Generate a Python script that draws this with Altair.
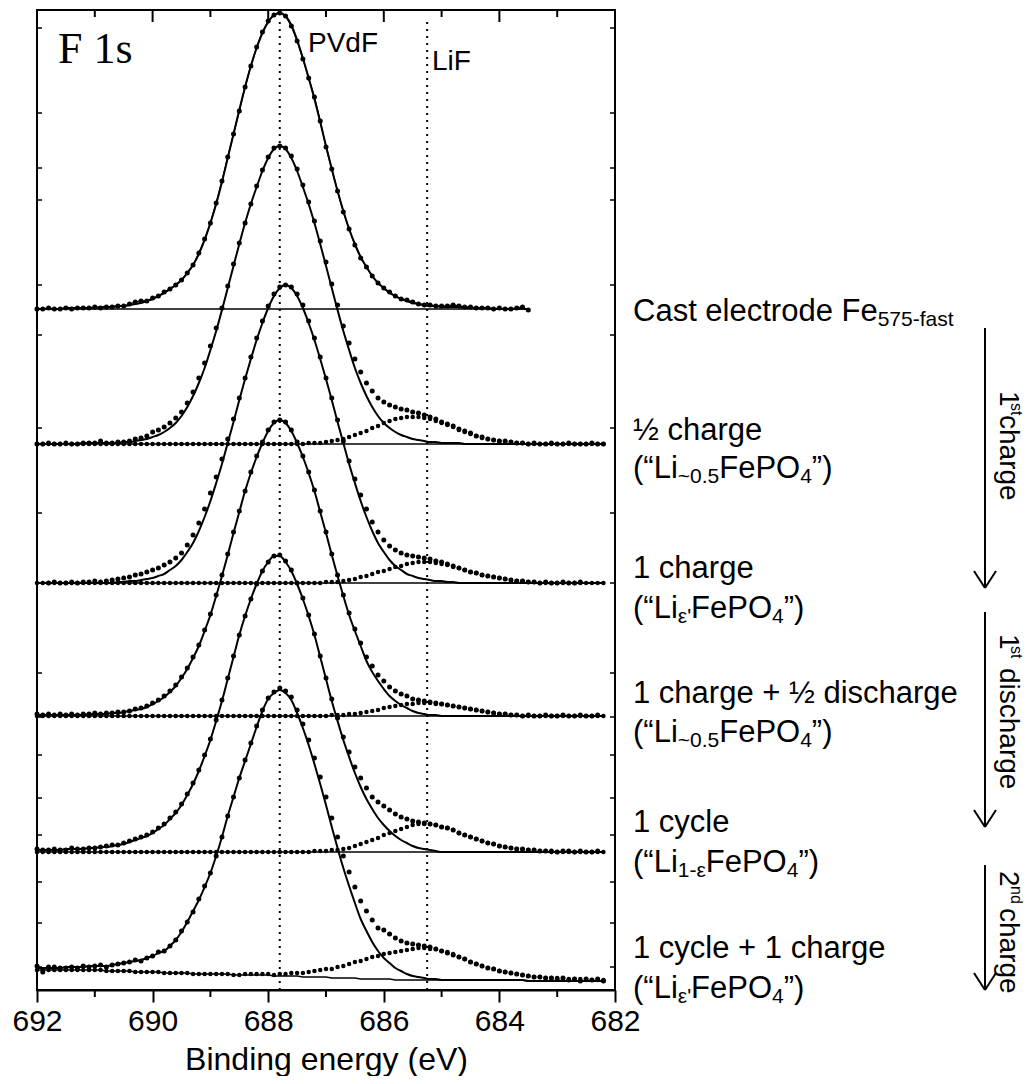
import altair as alt
import pandas as pd

# ---------------- data (heights, 1 unit = 1 px) ----------------
ENERGY = [
    692.0, 691.9, 691.8, 691.7, 691.6, 691.5, 691.4, 691.3, 691.2, 691.1,
    691.0, 690.9, 690.8, 690.7, 690.6, 690.5, 690.4, 690.3, 690.2, 690.1,
    690.0, 689.9, 689.8, 689.7, 689.6, 689.5, 689.4, 689.3, 689.2, 689.1,
    689.0, 688.9, 688.8, 688.7, 688.6, 688.5, 688.4, 688.3, 688.2, 688.1,
    688.0, 687.9, 687.8, 687.7, 687.6, 687.5, 687.4, 687.3, 687.2, 687.1,
    687.0, 686.9, 686.8, 686.7, 686.6, 686.5, 686.4, 686.3, 686.2, 686.1,
    686.0, 685.9, 685.8, 685.7, 685.6, 685.5, 685.4, 685.3, 685.2, 685.1,
    685.0, 684.9, 684.8, 684.7, 684.6, 684.5, 684.4, 684.3, 684.2, 684.1,
    684.0, 683.9, 683.8, 683.7, 683.6, 683.5, 683.4, 683.3, 683.2, 683.1,
    683.0, 682.9, 682.8, 682.7, 682.6, 682.5, 682.4, 682.3, 682.2,
]
N = None

# Cast electrode
S1_DATA = [
    0, 0, 1, 0, 0, 1, 0, 1, 1, 1,
    2, 1, 2, 2, 3, 3, 5, 7, 8, 8,
    11, 13, 17, 20, 24, 29, 36, 44, 56, 70,
    86, 106, 128, 152, 175, 198, 222, 243, 262, 277,
    288, 294, 296, 293, 283, 268, 250, 231, 212, 188,
    162, 140, 118, 97, 80, 64, 51, 42, 33, 26,
    21, 17, 13, 10, 9, 7, 5, 4, 4, 3,
    3, 3, 4, 3, 2, 2, 1, 1, 1, 0,
    1, 0, 0, 1, 2, -1, N, N, N, N,
    N, N, N, N, N, N, N, N, N,
]
S1_FIT = [
    0, 0, 0, 0, 0, 1, 1, 1, 1, 1,
    1, 2, 2, 2, 3, 3, 4, 5, 6, 8,
    10, 13, 16, 20, 24, 29, 36, 44, 55, 69,
    86, 105, 127, 151, 175, 199, 222, 243, 261, 276,
    287, 294, 296, 293, 284, 269, 251, 231, 210, 187,
    163, 140, 118, 98, 80, 65, 52, 42, 33, 26,
    21, 16, 13, 10, 8, 6, 5, 4, 3, 3,
    2, 2, 2, 2, 1, 1, 1, 1, 1, 0,
    0, 0, 0, 0, 0, 0, N, N, N, N,
    N, N, N, N, N, N, N, N, N,
]

# 1/2 charge
S2_DATA = [
    0, 0, 1, 0, 0, 1, 0, 0, 1, 1,
    1, 3, 1, 1, 2, 2, 3, 5, 6, 8,
    12, 14, 17, 21, 26, 32, 41, 52, 66, 81,
    98, 116, 136, 158, 180, 201, 221, 240, 258, 274,
    287, 296, 298, 296, 288, 275, 259, 242, 223, 203,
    182, 160, 139, 118, 101, 85, 72, 61, 53, 46,
    42, 39, 37, 35, 34, 32, 31, 29, 27, 25,
    22, 20, 18, 15, 13, 11, 8, 7, 5, 4,
    3, 3, 2, 1, 1, 0, 1, 0, 0, 1,
    0, 0, 1, 0, 0, 0, 1, 0, 0,
]
S2_FIT = [
    0, 0, 0, 0, 0, 0, 0, 0, 1, 1,
    1, 1, 1, 1, 1, 2, 2, 3, 4, 5,
    7, 9, 12, 16, 21, 28, 37, 48, 61, 76,
    94, 113, 134, 156, 178, 200, 221, 240, 257, 273,
    286, 295, 298, 295, 286, 273, 257, 240, 221, 200,
    178, 156, 134, 113, 94, 76, 61, 48, 37, 28,
    21, 16, 12, 9, 7, 5, 4, 3, 2, 2,
    1, 1, 1, 1, 0, 0, 0, 0, 0, 0,
    0, 0, 0, 0, 0, 0, 0, 0, 0, 0,
    0, 0, 0, 0, 0, 0, 0, 0, 0,
]
S2_LIF = [
    0, 0, 0, 0, 0, 0, 0, 0, 0, 0,
    0, 0, 0, 0, 0, 0, 0, 0, 0, 0,
    0, 0, 0, 0, 0, 0, 0, 0, 0, 0,
    0, 0, 0, 0, 0, 0, 0, 0, 0, 0,
    0, 0, 0, 0, 0, 0, 0, 1, 1, 1,
    2, 3, 4, 5, 7, 9, 11, 13, 16, 18,
    21, 23, 25, 26, 27, 27, 27, 26, 25, 23,
    21, 19, 17, 14, 12, 10, 8, 6, 5, 4,
    3, 2, 2, 1, 1, 0, 0, 0, 0, 0,
    0, 0, 0, 0, 0, 0, 0, 0, 0,
]

# 1 charge
S3_DATA = [
    N, N, 0, 1, 0, 0, 1, 0, 1, 1,
    2, 1, 2, 3, 4, 5, 6, 8, 9, 11,
    13, 15, 18, 21, 25, 30, 38, 48, 60, 74,
    90, 106, 124, 144, 164, 185, 205, 226, 245, 262,
    277, 289, 296, 298, 296, 289, 278, 262, 245, 226,
    205, 185, 163, 142, 122, 104, 88, 74, 61, 51,
    43, 37, 33, 30, 28, 27, 26, 25, 24, 22,
    21, 19, 17, 15, 13, 11, 10, 8, 7, 6,
    5, 4, 3, 2, 2, 1, 1, 0, 1, 0,
    0, 1, 0, 0, 1, N, N, N, N,
]
S3_FIT = [
    0, 0, 0, 0, 0, 0, 0, 0, 0, 0,
    0, 0, 0, 0, 1, 1, 2, 2, 3, 4,
    5, 7, 9, 13, 17, 23, 31, 40, 52, 66,
    82, 100, 119, 140, 161, 183, 204, 224, 243, 260,
    275, 287, 295, 298, 295, 287, 275, 260, 243, 224,
    204, 183, 161, 140, 119, 100, 82, 66, 52, 40,
    31, 23, 17, 13, 9, 7, 5, 4, 3, 2,
    2, 1, 1, 0, 0, 0, 0, 0, 0, 0,
    0, 0, 0, 0, 0, 0, 0, 0, 0, 0,
    0, 0, 0, 0, 0, 0, 0, 0, 0,
]
S3_LIF = [
    0, 0, 0, 0, 0, 0, 0, 0, 0, 0,
    0, 0, 0, 0, 0, 0, 0, 0, 0, 0,
    0, 0, 0, 0, 0, 0, 0, 0, 0, 0,
    0, 0, 0, 0, 0, 0, 0, 0, 0, 0,
    0, 0, 0, 0, 0, 0, 0, 0, 0, 0,
    1, 1, 1, 2, 3, 4, 6, 7, 9, 11,
    12, 14, 16, 17, 19, 20, 21, 21, 21, 20,
    19, 18, 16, 15, 13, 11, 10, 8, 7, 6,
    5, 4, 3, 2, 2, 1, 1, 0, 0, 0,
    0, 0, 0, 0, 0, 0, 0, 0, 0,
]

# 1 charge + 1/2 discharge
S4_DATA = [
    2, 1, 2, 1, 2, 1, 2, 1, 2, 2,
    3, 2, 3, 3, 4, 4, 5, 7, 8, 10,
    13, 16, 20, 25, 31, 39, 48, 59, 71, 86,
    102, 121, 141, 162, 184, 205, 225, 244, 260, 274,
    286, 294, 296, 294, 286, 274, 260, 244, 226, 205,
    184, 162, 141, 121, 103, 87, 73, 59, 50, 41,
    35, 29, 25, 22, 20, 17, 16, 15, 14, 13,
    12, 11, 10, 9, 8, 7, 6, 5, 4, 3,
    2, 2, 1, 1, 0, 1, 0, 0, 1, 0,
    0, 1, 0, 0, 1, 0, 0, 1, N,
]
S4_FIT = [
    1, 1, 1, 1, 1, 1, 1, 1, 1, 2,
    2, 2, 2, 3, 3, 4, 5, 6, 7, 9,
    12, 15, 19, 24, 30, 38, 47, 58, 70, 85,
    101, 120, 140, 161, 183, 204, 225, 243, 259, 273,
    285, 293, 296, 293, 285, 273, 259, 243, 225, 204,
    183, 161, 140, 120, 101, 85, 70, 55, 44, 35,
    27, 20, 15, 11, 8, 5, 3, 2, 1, 1,
    0, 0, 0, 0, 0, 0, 0, 0, 0, 0,
    0, 0, 0, 0, 0, 0, 0, 0, 0, 0,
    0, 0, 0, 0, 0, 0, 0, 0, 0,
]
S4_LIF = [
    0, 0, 0, 0, 0, 0, 0, 0, 0, 0,
    0, 0, 0, 0, 0, 0, 0, 0, 0, 0,
    0, 0, 0, 0, 0, 0, 0, 0, 0, 0,
    0, 0, 0, 0, 0, 0, 0, 0, 0, 0,
    0, 0, 0, 0, 0, 0, 0, 0, 0, 0,
    0, 1, 1, 1, 2, 2, 3, 4, 5, 6,
    8, 9, 10, 11, 12, 12, 13, 13, 13, 12,
    12, 11, 10, 9, 8, 7, 6, 5, 4, 3,
    2, 2, 1, 1, 0, 0, 0, 0, 0, 0,
    0, 0, 0, 0, 0, 0, 0, 0, 0,
]

# 1 cycle
S5_DATA = [
    3, 2, 2, 3, 2, 2, 4, 3, 3, 4,
    4, 5, 6, 7, 7, 9, 11, 13, 15, 17,
    20, 24, 28, 34, 40, 48, 58, 69, 82, 97,
    113, 132, 152, 174, 196, 217, 236, 253, 268, 281,
    290, 296, 297, 291, 282, 269, 254, 237, 218, 196,
    174, 153, 134, 115, 100, 85, 74, 64, 55, 50,
    46, 42, 38, 35, 33, 31, 30, 29, 28, 27,
    25, 24, 22, 19, 17, 15, 13, 11, 9, 8,
    6, 5, 4, 3, 3, 2, 2, 1, 1, 1,
    0, 1, 1, 0, 1, 0, 0, 1, N,
]
S5_FIT = [
    2, 2, 2, 2, 2, 3, 3, 3, 3, 4,
    4, 5, 5, 6, 7, 8, 10, 12, 14, 16,
    19, 23, 27, 33, 39, 47, 57, 68, 81, 96,
    112, 131, 151, 173, 195, 217, 236, 253, 268, 281,
    290, 296, 296, 290, 281, 268, 253, 236, 217, 195,
    173, 151, 131, 112, 95, 79, 65, 53, 43, 34,
    27, 21, 16, 12, 9, 6, 4, 3, 2, 1,
    0, 0, 0, 0, 0, 0, 0, 0, 0, 0,
    0, 0, 0, 0, 0, 0, 0, 0, 0, 0,
    0, 0, 0, 0, 0, 0, 0, 0, 0,
]
S5_LIF = [
    0, 0, 0, 0, 0, 0, 0, 0, 0, 0,
    0, 0, 0, 0, 0, 0, 0, 0, 0, 0,
    0, 0, 0, 0, 0, 0, 0, 0, 0, 0,
    0, 0, 0, 0, 0, 0, 0, 0, 0, 0,
    0, 0, 0, 0, 0, 0, 0, 0, 1, 1,
    1, 2, 2, 3, 4, 6, 8, 10, 12, 14,
    17, 19, 21, 23, 25, 27, 28, 28, 28, 27,
    25, 24, 22, 19, 17, 15, 13, 11, 9, 8,
    6, 5, 4, 3, 3, 2, 2, 1, 1, 0,
    0, 0, 0, 0, 0, 0, 0, 0, 0,
]

# 1 cycle + 1 charge (sloping background)
S6_BG = [
    20, 20, 20, 20, 20, 20, 20, 20, 20, 20,
    20, 20, 19, 19, 19, 19, 19, 18, 18, 18,
    18, 18, 17, 17, 17, 17, 17, 16, 16, 16,
    16, 16, 16, 16, 15, 15, 15, 15, 15, 15,
    15, 14, 14, 14, 14, 14, 13, 13, 13, 13,
    13, 12, 12, 12, 12, 12, 11, 11, 11, 11,
    11, 11, 10, 10, 10, 10, 10, 10, 10, 10,
    10, 10, 10, 10, 10, 10, 10, 10, 10, 10,
    10, 10, 10, 10, 10, 9, 9, 9, 9, 9,
    9, 9, 9, 9, 9, 9, 9, 9, 9,
]
S6_DATA = [
    4, -2, 3, 3, 2, 2, 3, 2, 4, 3,
    4, 5, 4, 6, 7, 8, 9, 12, 11, 14,
    16, 20, 22, 27, 33, 42, 51, 62, 75, 88,
    101, 118, 137, 158, 178, 197, 215, 232, 249, 265,
    277, 284, 288, 285, 279, 266, 253, 237, 219, 200,
    180, 160, 141, 122, 106, 91, 78, 68, 59, 51,
    49, 45, 42, 39, 37, 36, 35, 34, 33, 31,
    29, 27, 25, 23, 21, 18, 16, 14, 12, 11,
    9, 8, 7, 6, 5, 5, 4, 4, 3, 3,
    2, 3, 1, 2, 0, 2, 1, 2, 0,
]
S6_FIT = [
    2, 2, 2, 2, 2, 3, 3, 3, 3, 4,
    4, 4, 5, 6, 7, 8, 9, 11, 12, 14,
    16, 19, 22, 27, 33, 41, 51, 63, 74, 87,
    101, 118, 137, 158, 178, 197, 214, 231, 248, 264,
    276, 283, 286, 283, 276, 263, 249, 232, 213, 193,
    172, 151, 130, 110, 92, 75, 60, 48, 37, 28,
    21, 16, 12, 9, 6, 4, 3, 2, 1, 1,
    0, 0, 0, 0, 0, 0, 0, 0, 0, 0,
    0, 0, 0, 0, 0, 0, 0, 0, 0, 0,
    0, 0, 0, 0, 0, 0, 0, 0, 0,
]
S6_LIF = [
    0, 0, 0, 0, 0, 0, 0, 0, 0, 0,
    0, 0, 0, 0, 0, 0, 0, 0, 0, 0,
    0, 0, 0, 0, 0, 0, 0, 0, 0, 0,
    0, 0, 0, 0, 0, 0, 1, 1, 1, 1,
    1, 1, 2, 2, 3, 3, 4, 5, 6, 7,
    8, 9, 11, 12, 14, 16, 18, 20, 22, 23,
    25, 26, 28, 29, 30, 31, 32, 32, 31, 31,
    29, 28, 26, 23, 21, 18, 16, 14, 12, 11,
    9, 8, 7, 6, 5, 5, 4, 4, 3, 3,
    3, 2, 2, 2, 2, 1, 1, 1, 1,
]

# vertical offsets of the stacked spectra (intensity units)
OFFSETS = [681, 546, 407, 274, 138, None]
PEAK_LINES = [687.8, 685.25]          # PVdF and LiF reference energies
X_TICK_LABELS = [692, 690, 688, 686, 684, 682]
X_MINOR = [691, 689, 687, 685, 683]
X_TOP_MAJOR = [690, 688, 686, 684]
SIDE_TICKS = [962, 877, 822, 790, 705, 655, 562, 477, 407, 317, 273, 235, 192, 155, 108, 67, 23]

SPECTRA = [
    ("s1", S1_DATA, S1_FIT, None),
    ("s2", S2_DATA, S2_FIT, S2_LIF),
    ("s3", S3_DATA, S3_FIT, S3_LIF),
    ("s4", S4_DATA, S4_FIT, S4_LIF),
    ("s5", S5_DATA, S5_FIT, S5_LIF),
    ("s6", S6_DATA, S6_FIT, S6_LIF),
]
for _, d, f, l in SPECTRA:
    assert len(d) == len(ENERGY) and len(f) == len(ENERGY)
    if l is not None:
        assert len(l) == len(ENERGY)
assert len(S6_BG) == len(ENERGY)

# ---------------- build tables ----------------
pts, fits, lifs, bases = [], [], [], []
for k, (name, d, f, l) in enumerate(SPECTRA):
    off = OFFSETS[k]
    for i, e in enumerate(ENERGY):
        b = S6_BG[i] if off is None else off
        if d[i] is not None:
            pts.append({"E": e, "y": b + d[i], "spec": name})
            bases.append({"E": e, "y": b, "spec": name})
        if f[i] is not None:
            fits.append({"E": e, "y": b + f[i], "spec": name})
        if l is not None and l[i] is not None:
            lifs.append({"E": e, "y": b + l[i], "spec": name})
pts = pd.DataFrame(pts)
fits = pd.DataFrame(fits)
lifs = pd.DataFrame(lifs)
bases = pd.DataFrame(bases)
s1_pts = pts[pts["spec"] == "s1"]

X_SCALE = alt.Scale(domain=[682, 692], reverse=True, nice=False, zero=False)
Y_SCALE = alt.Scale(domain=[0, 980], nice=False, zero=False)
AXIS = alt.Axis(values=X_TICK_LABELS, format="d", title="Binding energy (eV)", grid=False,
                tickSize=12, tickWidth=2, tickColor="black", domainColor="black", domainWidth=2,
                labelFont="Liberation Sans", labelFontSize=30, labelColor="black", labelPadding=4,
                labelFlush=False, labelOverlap=False, titleFont="Liberation Sans", titleFontSize=32,
                titleFontWeight="normal", titleColor="black", titlePadding=8)


def xe():
    return alt.X("E:Q", scale=X_SCALE, axis=AXIS)


def ye():
    return alt.Y("y:Q", scale=Y_SCALE, axis=None)


base_layer = alt.Chart(bases).mark_line(color="black", strokeWidth=1.4).encode(
    x=xe(), y=ye(), detail="spec:N", order="E:Q")
fit_layer = alt.Chart(fits).mark_line(color="black", strokeWidth=2, interpolate="monotone").encode(
    x=xe(), y=ye(), detail="spec:N")
s1_line = alt.Chart(s1_pts).mark_line(color="black", strokeWidth=1.3).encode(x=xe(), y=ye())
lif_layer = alt.Chart(lifs).mark_circle(color="black", size=20, opacity=1).encode(x=xe(), y=ye())
pt_layer = alt.Chart(pts).mark_circle(color="black", size=25, opacity=1).encode(x=xe(), y=ye())

vlines = alt.Chart(pd.DataFrame({"E": PEAK_LINES})).mark_rule(
    color="black", strokeWidth=2, strokeDash=[2, 5]).encode(
    x=xe(), y=alt.value(12), y2=alt.value(980))

top_major = alt.Chart(pd.DataFrame({"E": X_TOP_MAJOR})).mark_rule(color="black", strokeWidth=2).encode(
    x=xe(), y=alt.value(0), y2=alt.value(12))
top_minor = alt.Chart(pd.DataFrame({"E": X_MINOR})).mark_rule(color="black", strokeWidth=2).encode(
    x=xe(), y=alt.value(0), y2=alt.value(7))
bot_minor = alt.Chart(pd.DataFrame({"E": X_MINOR})).mark_rule(color="black", strokeWidth=2).encode(
    x=xe(), y=alt.value(980), y2=alt.value(987))
left_ticks = alt.Chart(pd.DataFrame({"y": SIDE_TICKS})).mark_rule(color="black", strokeWidth=1.5).encode(
    y=ye(), x=alt.value(0), x2=alt.value(5))
right_ticks = alt.Chart(pd.DataFrame({"y": SIDE_TICKS})).mark_rule(color="black", strokeWidth=1.5).encode(
    y=ye(), x=alt.value(573), x2=alt.value(578))

# ---------------- annotation text ----------------
ADV = {' ': 278, '(': 333, ')': 333, '\u201c': 333, '\u201d': 333, 'L': 556, 'i': 222, 'F': 611,
       'e': 556, 'P': 667, 'O': 778, '4': 556, '~': 584, '0': 556, '.': 278, '5': 556, '7': 556,
       '-': 333, 'f': 278, 'a': 556, 's': 500, 't': 278, 'C': 722, 'l': 222, 'c': 500, 'r': 333,
       'o': 556, 'd': 556, 'h': 556, 'g': 556, 'y': 500, '1': 556, '2': 556, '+': 584,
       '\u00bd': 834, '\u03b5': 444, "'": 191, 'n': 556, 'u': 556}


def tw(s, size):
    return sum(ADV.get(c, 556) for c in s) * size / 1000.0


BIG, SUB, SUB_DY = 31, 21, 5
LI_05 = [("(\u201cLi", 0), ("~0.5", 1), ("FePO", 0), ("4", 1), ("\u201d)", 0)]
LI_EP = [("(\u201cLi", 0), ("\u03b5'", 1), ("FePO", 0), ("4", 1), ("\u201d)", 0)]
LI_1E = [("(\u201cLi", 0), ("1-\u03b5", 1), ("FePO", 0), ("4", 1), ("\u201d)", 0)]
LABEL_LINES = [
    (311, [("Cast electrode Fe", 0), ("575-fast", 1)]),
    (430, [("\u00bd charge", 0)]),
    (468, LI_05),
    (568, [("1 charge", 0)]),
    (608, LI_EP),
    (693, [("1 charge + \u00bd discharge", 0)]),
    (732, LI_05),
    (822, [("1 cycle", 0)]),
    (862, LI_1E),
    (948, [("1 cycle + 1 charge", 0)]),
    (988, LI_EP),
]
texts = []
for ly, pieces in LABEL_LINES:
    x = 596
    for s, sub in pieces:
        fs = SUB if sub else BIG
        texts.append({"tx": x, "ty": ly + (SUB_DY if sub else 0), "text": s, "fs": fs, "ang": 0})
        x += tw(s, fs)

# rotated stage labels (tops of the glyphs face right)
RX, SX = 963, 974
for s, x, y, fs in [("1", RX, 381, 28), ("st", SX, 393, 16), ("charge", RX, 405, 28),
                    ("1", RX, 624, 28), ("st", SX, 636, 16), ("discharge", RX, 658, 28),
                    ("2", RX, 861, 28), ("nd", SX, 876, 16), ("charge", RX, 898, 28)]:
    texts.append({"tx": x, "ty": y, "text": s, "fs": fs, "ang": 90})

texts.append({"tx": 271, "ty": 42, "text": "PVdF", "fs": 28, "ang": 0})
texts.append({"tx": 395, "ty": 60, "text": "LiF", "fs": 28, "ang": 0})
texts = pd.DataFrame(texts)

text_layer = alt.Chart(texts).mark_text(align="left", baseline="alphabetic", font="Liberation Sans",
                                        color="black").encode(
    x=alt.X("tx:Q", scale=None, axis=None),
    y=alt.Y("ty:Q", scale=None, axis=None),
    text="text:N",
    size=alt.Size("fs:Q", scale=None, legend=None),
    angle=alt.Angle("ang:Q", scale=None, legend=None),
)
f1s = alt.Chart(pd.DataFrame({"t": ["F 1s"]})).mark_text(
    align="left", baseline="alphabetic", font="Liberation Serif", fontSize=44, color="black").encode(
    x=alt.value(21), y=alt.value(53), text="t:N")

# arrows
AX = 948
segs = []
for y0, y1 in [(318, 578), (602, 817), (855, 980)]:
    segs.append({"ax": AX, "ay": y0, "ax2": AX, "ay2": y1})
    segs.append({"ax": AX - 11, "ay": y1 - 17, "ax2": AX, "ay2": y1})
    segs.append({"ax": AX + 11, "ay": y1 - 17, "ax2": AX, "ay2": y1})
arrows = alt.Chart(pd.DataFrame(segs)).mark_rule(color="black", strokeWidth=2).encode(
    x=alt.X("ax:Q", scale=None, axis=None), y=alt.Y("ay:Q", scale=None, axis=None),
    x2="ax2:Q", y2="ay2:Q")

chart = alt.layer(
    base_layer, vlines, fit_layer, s1_line, lif_layer, pt_layer,
    top_major, top_minor, bot_minor, left_ticks, right_ticks,
    text_layer, f1s, arrows,
).properties(
    width=578, height=980,
    autosize=alt.AutoSizeParams(type="none"),
    padding={"left": 29, "top": 2, "right": 413, "bottom": 86},
).configure_view(stroke="black", strokeWidth=2)

chart.save("out.html", embed_options={"renderer": "svg", "actions": False})
